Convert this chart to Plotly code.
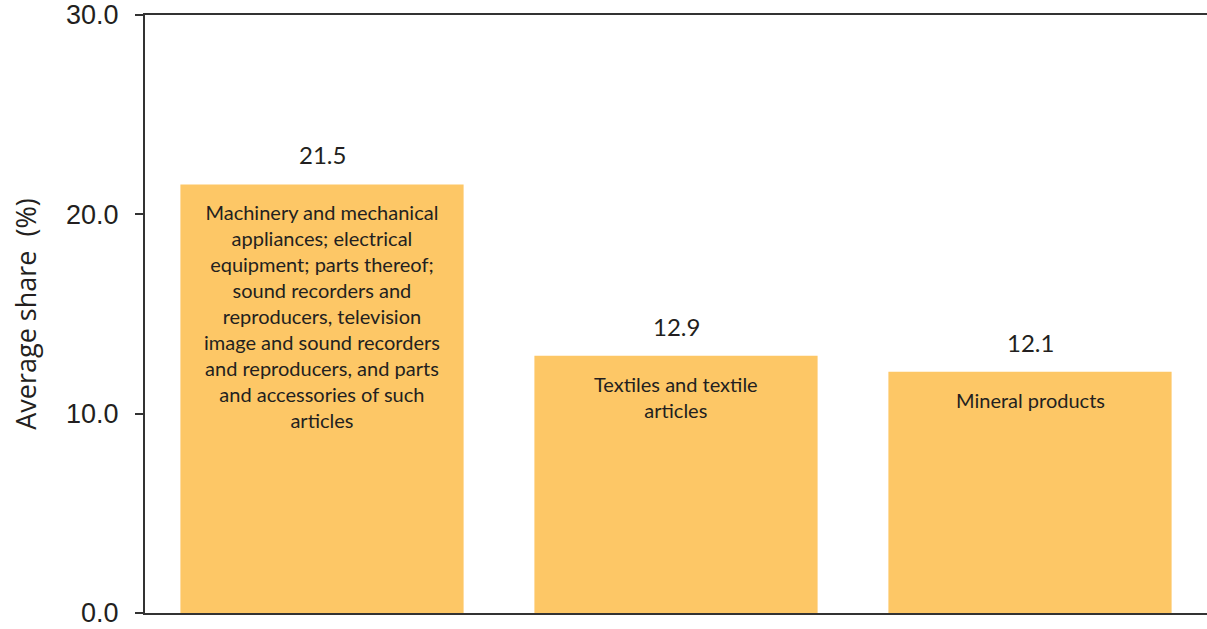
import plotly.graph_objects as go

# Product groups (short keys) and their wrapped descriptions
categories = ["Machinery", "Textiles", "Mineral"]
descriptions = [
    "Machinery and mechanical<br>appliances; electrical<br>equipment; parts thereof;<br>"
    "sound recorders and<br>reproducers, television<br>image and sound recorders<br>"
    "and reproducers, and parts<br>and accessories of such<br>articles",
    "Textiles and textile<br>articles",
    "Mineral products",
]
shares = [21.5, 12.9, 12.1]

y_ticks = [0, 10, 20, 30]
y_tick_labels = ["0.0", "10.0", "20.0", "30.0"]

bar_color = "#FDC766"
text_color = "#231F20"
axis_color = "#333333"

fig = go.Figure(
    go.Bar(
        x=categories,
        y=shares,
        width=0.8,
        marker=dict(color=bar_color, line=dict(width=0)),
        hoverinfo="skip",
    )
)

# Value labels above each bar
for cat, val in zip(categories, shares):
    fig.add_annotation(
        x=cat, y=val, text=f"{val:.1f}", showarrow=False,
        yanchor="bottom", yshift=13,
        font=dict(family="Lato", size=24, color=text_color),
    )

# Description text near the top inside each bar
for cat, val, desc in zip(categories, shares, descriptions):
    fig.add_annotation(
        x=cat, y=val, text=desc, showarrow=False,
        yanchor="top", yshift=-14, align="center",
        font=dict(family="Lato", size=20, color=text_color),
    )

fig.update_layout(
    width=1207,
    height=629,
    margin=dict(l=145, r=0, t=15, b=16, autoexpand=False),
    paper_bgcolor="white",
    plot_bgcolor="white",
    showlegend=False,
    xaxis=dict(
        range=[-0.5, 2.5],
        showticklabels=False,
        ticks="",
        showgrid=False,
        zeroline=False,
        showline=True,
        mirror=True,
        linecolor=axis_color,
        linewidth=2,
        automargin=False,
    ),
    yaxis=dict(
        range=[0, 30],
        tickvals=y_ticks,
        ticktext=y_tick_labels,
        ticks="outside",
        ticklen=8,
        tickwidth=2,
        tickcolor=axis_color,
        ticklabelstandoff=11,
        ticklabeloverflow="allow",
        automargin=False,
        showgrid=False,
        zeroline=False,
        showline=True,
        linecolor=axis_color,
        linewidth=2,
        tickfont=dict(family="Liberation Sans", size=27, color=text_color),
        title=dict(
            text="Average share  (%)",
            font=dict(family="Open Sans", size=27, color=text_color),
            standoff=22,
        ),
    ),
)

fig.write_html("out.html")
